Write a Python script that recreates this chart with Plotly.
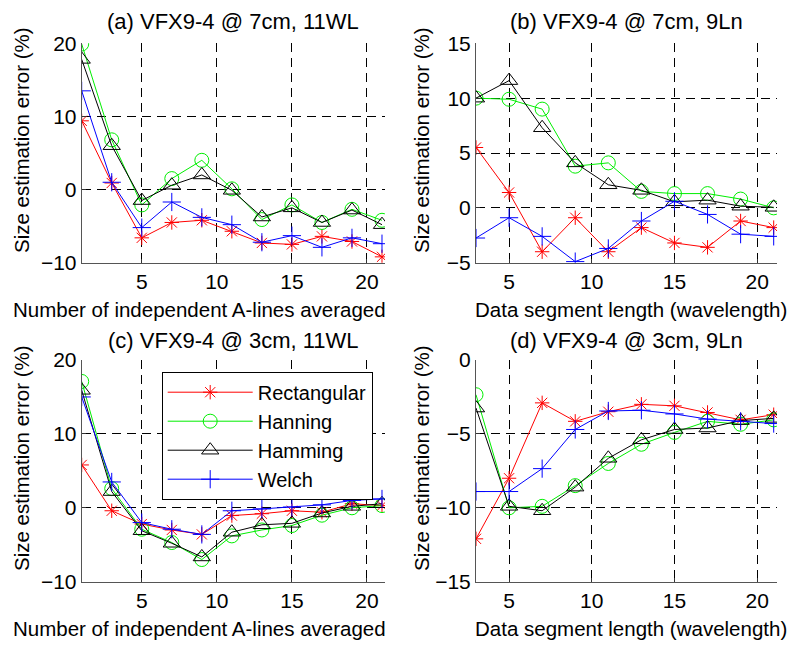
import plotly.graph_objects as go
from plotly.subplots import make_subplots

# x values
x_lines = [1, 3, 5, 7, 9, 11, 13, 15, 17, 19, 21]
x_seg = [3, 5, 7, 9, 11, 13, 15, 17, 19, 21]

# (a) VFX9-4 @ 7cm, 11WL
a_rect = [9.4, 0.9, -6.6, -4.5, -4.2, -5.7, -7.3, -7.5, -6.4, -7.1, -9.2]
a_hann = [19.9, 6.8, -2.1, 1.5, 4.0, 0.1, -4.1, -2.1, -4.5, -2.7, -4.2]
a_hamm = [17.8, 6.0, -1.5, 0.6, 2.0, -0.1, -3.75, -2.5, -4.5, -2.8, -4.8]
a_welch = [13.5, 1.0, -5.2, -1.7, -3.8, -4.8, -7.2, -6.3, -7.9, -6.6, -7.4]

# (b) VFX9-4 @ 7cm, 9Ln
b_rect = [5.5, 1.4, -4.0, -0.9, -4.0, -1.8, -3.2, -3.6, -1.2, -1.8]
b_hann = [10.0, 9.9, 9.0, 3.8, 4.1, 1.5, 1.3, 1.3, 0.8, 0.0]
b_hamm = [10.0, 11.6, 7.3, 4.1, 2.1, 1.6, 0.55, 0.7, 0.15, 0.05]
b_welch = [-2.75, -0.9, -2.6, -4.9, -3.7, -1.2, 0.6, -0.6, -2.4, -2.6]

# (c) VFX9-4 @ 3cm, 11WL
c_rect = [5.8, -0.4, -2.2, -3.0, -3.6, -1.05, -0.8, -0.4, -0.6, 0.55, 0.3]
c_hann = [17.1, 2.6, -2.9, -4.7, -7.0, -3.8, -3.0, -2.4, -1.0, 0.0, 0.3]
c_hamm = [15.9, 2.2, -3.1, -4.8, -6.65, -3.3, -2.3, -2.1, -0.7, 0.2, 0.55]
c_welch = [15.0, 3.5, -2.0, -2.9, -3.6, -0.4, -0.15, 0.1, 0.4, 1.0, 1.2]

# (d) VFX9-4 @ 3cm, 9Ln
d_rect = [-12.1, -8.0, -2.9, -4.15, -3.5, -3.0, -3.1, -3.55, -4.05, -3.7]
d_hann = [-2.35, -10.0, -9.9, -8.5, -7.0, -5.7, -4.9, -4.15, -4.35, -4.05]
d_hamm = [-3.25, -9.9, -10.2, -8.6, -6.65, -5.4, -4.7, -4.6, -4.1, -3.95]
d_welch = [-8.9, -8.9, -7.35, -4.7, -3.45, -3.4, -3.65, -4.0, -4.15, -4.3]

names = ["Rectangular", "Hanning", "Hamming", "Welch"]
colors = ["#ff0000", "#00ee00", "#000000", "#0000ff"]
symbols = ["asterisk-open", "circle-open", "triangle-up-open", "cross-thin-open"]
msizes = [12, 14, 15, 13]

panels = [
    (1, 1, x_lines, [a_rect, a_hann, a_hamm, a_welch]),
    (1, 2, x_seg, [b_rect, b_hann, b_hamm, b_welch]),
    (2, 1, x_lines, [c_rect, c_hann, c_hamm, c_welch]),
    (2, 2, x_seg, [d_rect, d_hann, d_hamm, d_welch]),
]

W, H = 800, 653
FONT = "Liberation Sans, Arial, sans-serif"

fig = make_subplots(rows=2, cols=2)

for row, col, xs, series in panels:
    for i, ys in enumerate(series):
        fig.add_trace(go.Scatter(
            x=xs, y=ys, name=names[i], mode="lines+markers",
            line=dict(color=colors[i], width=1),
            marker=dict(symbol=symbols[i], size=msizes[i], color=colors[i],
                        line=dict(color=colors[i], width=1)),
            showlegend=(row == 2 and col == 1),
        ), row=row, col=col)

# pixel boxes of the axes
def dom_x(a, b):
    return [a / W, b / W]

def dom_y(top, bottom):
    return [1 - bottom / H, 1 - top / H]

ax_common = dict(
    showline=True, linecolor="#555555", linewidth=1,
    ticks="inside", ticklen=4, tickcolor="#333333",
    showgrid=True, gridcolor="#000000", gridwidth=1, griddash="9px,6px",
    zeroline=False, mirror=False, automargin=False,
    tickfont=dict(family=FONT, size=21, color="#000000"),
)

fig.update_xaxes(ax_common)
fig.update_yaxes(ax_common)

fig.update_xaxes(domain=dom_x(81.7, 385), range=[1, 21.2], tickvals=[5, 10, 15, 20], col=1)
fig.update_xaxes(domain=dom_x(476, 777), range=[3, 21.2], tickvals=[5, 10, 15, 20], col=2)
fig.update_yaxes(domain=dom_y(43.3, 262.7), row=1)
fig.update_yaxes(domain=dom_y(360, 581.7), row=2)
fig.update_yaxes(range=[-10, 20], tickvals=[-10, 0, 10, 20], row=1, col=1)
fig.update_yaxes(range=[-5, 15], tickvals=[-5, 0, 5, 10, 15], row=1, col=2)
fig.update_yaxes(range=[-10, 20], tickvals=[-10, 0, 10, 20], row=2, col=1)
fig.update_yaxes(range=[-15, 0], tickvals=[-15, -10, -5, 0], row=2, col=2)

def ann(text, x, y, size, angle=0):
    return dict(text=text, x=x / W, y=1 - y / H, xref="paper", yref="paper",
                showarrow=False, textangle=angle, xanchor="center", yanchor="middle",
                font=dict(family=FONT, size=size, color="#000000"))

annotations = [
    ann("(a) VFX9-4 @ 7cm, 11WL", 233, 21, 22),
    ann("(b) VFX9-4 @ 7cm, 9Ln", 626, 21, 22),
    ann("(c) VFX9-4 @ 3cm, 11WL", 233, 340, 22),
    ann("(d) VFX9-4 @ 3cm, 9Ln", 626, 340, 22),
    ann("Number of independent A-lines averaged", 199, 310, 20.5),
    ann("Data segment length (wavelength)", 631, 310, 20.5),
    ann("Number of independent A-lines averaged", 199, 628, 20.5),
    ann("Data segment length (wavelength)", 631, 628, 20.5),
    ann("Size estimation error (%)", 22, 140, 20.5, -90),
    ann("Size estimation error (%)", 422, 140, 20.5, -90),
    ann("Size estimation error (%)", 22, 458, 20.5, -90),
    ann("Size estimation error (%)", 422, 458, 20.5, -90),
]

fig.update_layout(
    width=W, height=H,
    margin=dict(l=0, r=0, t=0, b=0, autoexpand=False),
    paper_bgcolor="white", plot_bgcolor="white",
    annotations=annotations,
    legend=dict(x=161.7 / W, y=1 - 371.7 / H, xanchor="left", yanchor="top",
                bgcolor="white", bordercolor="#000000", borderwidth=1,
                itemwidth=85, font=dict(family=FONT, size=20, color="#000000")),
)

fig.write_html("out.html", config={"displayModeBar": False},
               post_script="document.body.style.margin='0';")
